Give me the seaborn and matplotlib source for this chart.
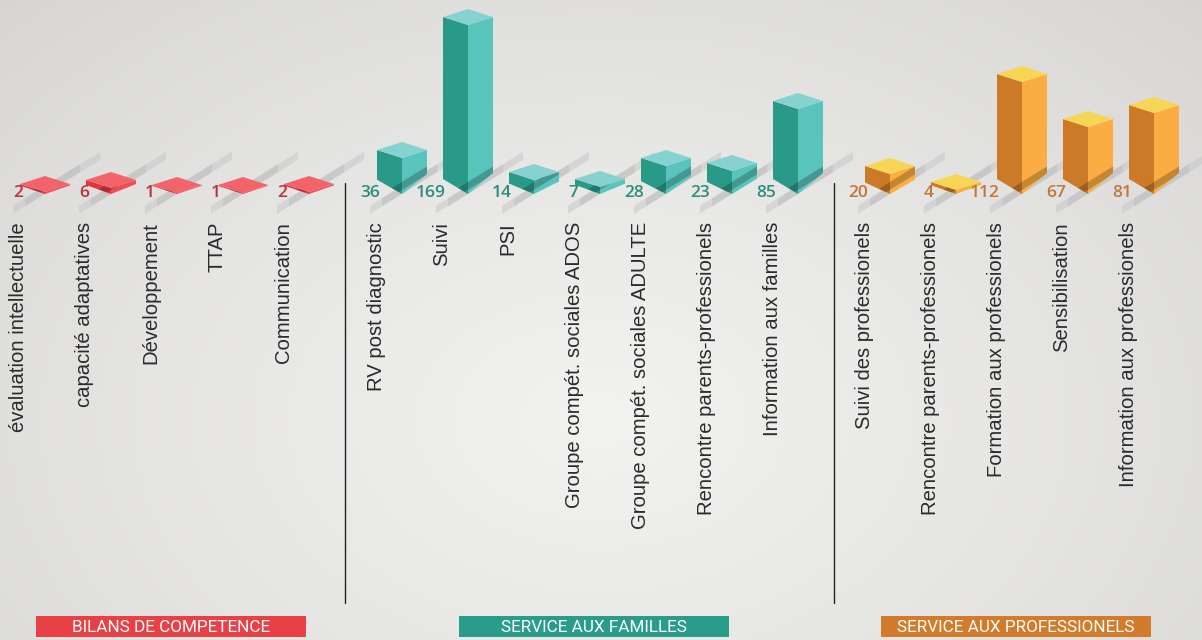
import numpy as np
import matplotlib.pyplot as plt
import seaborn as sns
from matplotlib.patches import Polygon, Rectangle

sns.set_theme(style="white")
plt.rcParams['font.family'] = ['Liberation Sans', 'DejaVu Sans']

# ---- data ----
groups = ["BILANS DE COMPETENCE", "SERVICE AUX FAMILLES", "SERVICE AUX PROFESSIONELS"]

bilans_labels = ["évaluation intellectuelle", "capacité adaptatives", "Développement",
                 "TTAP", "Communication"]
bilans_values = [2, 6, 1, 1, 2]

familles_labels = ["RV post diagnostic", "Suivi", "PSI", "Groupe compét. sociales ADOS",
                   "Groupe compét. sociales ADULTE", "Rencontre parents-professionels",
                   "Information aux familles"]
familles_values = [36, 169, 14, 7, 28, 23, 85]

pros_labels = ["Suivi des professionels", "Rencontre parents-professionels",
               "Formation aux professionels", "Sensibilisation",
               "Information aux professionels"]
pros_values = [20, 4, 112, 67, 81]

# colours per group: left face, right face, top face, label text, header
palettes = [
    dict(left="#e2363d", right="#f04c52", top="#f2646a", text="#b5353a", head="#e94046"),
    dict(left="#2a9a88", right="#59c4bc", top="#85d2d0", text="#2e8c7c", head="#2a9d8a"),
    dict(left="#cd7a28", right="#fbad43", top="#f7d655", text="#c0773a", head="#d27b2b"),
]

# ---- layout (pixel space) ----
W, H = 1202, 640
step = 66
group_start = [45, 402, 890]
base_y = 194
half_w = 25
top_slant = 8

fig = plt.figure(figsize=(W / 100, H / 100), dpi=100)
ax = fig.add_axes([0, 0, 1, 1])
ax.set_xlim(0, W)
ax.set_ylim(H, 0)
ax.axis('off')

# radial background
yy, xx = np.mgrid[0:H, 0:W]
r = np.sqrt(((xx - 600) / 900.0) ** 2 + ((yy - 420) / 620.0) ** 2)
bg = np.clip(1 - r, 0, 1)
lo = np.array([0.83, 0.825, 0.82])
hi = np.array([0.95, 0.95, 0.945])
img = lo + (hi - lo) * bg[..., None] ** 0.8
ax.imshow(img, extent=(0, W, H, 0), zorder=0, aspect='auto')


def band_poly(x0, yb, xa_off=-32, xb_off=55):
    # floor streak running lower-left -> upper-right through the bar base
    sl = -0.62
    xa, xb = x0 + xa_off, x0 + xb_off
    t = 4
    y0 = yb + 12 + sl * (xa_off + 26)
    return [(xa, y0 - t), (xb, y0 + sl * (xb - xa) - t),
            (xb, y0 + sl * (xb - xa) + t), (xa, y0 + t)]


def draw_bar(x0, v, pal):
    s = min(1.0, v / 40.0)
    lb = 8 + 7 * s
    rb = 8 + 13 * s
    ft = base_y - v
    # floor streak, fading towards its ends
    ax.add_patch(Polygon(band_poly(x0, base_y), closed=True, fc="#c8c8c8",
                         ec="none", alpha=0.55, zorder=1))
    ax.add_patch(Polygon(band_poly(x0, base_y, -20, 35), closed=True, fc="#bdbdbd",
                         ec="none", alpha=0.5, zorder=1))
    left = [(x0 - half_w, base_y - lb), (x0, base_y), (x0, ft), (x0 - half_w, ft - top_slant)]
    right = [(x0, base_y), (x0 + half_w, base_y - rb), (x0 + half_w, ft - top_slant), (x0, ft)]
    top = [(x0, ft), (x0 + half_w, ft - top_slant), (x0, ft - 2 * top_slant),
           (x0 - half_w, ft - top_slant)]
    for pts, c in [(left, pal["left"]), (right, pal["right"]), (top, pal["top"])]:
        p = Polygon(pts, closed=True, fc=c, ec="none", zorder=3)
        ax.add_patch(p)
        if c != pal["top"]:
            sh = Polygon(band_poly(x0, base_y - 4), closed=True, fc="black",
                         ec="none", alpha=0.22, zorder=4)
            sh.set_clip_path(p)
            ax.add_patch(sh)


all_groups = [(bilans_labels, bilans_values), (familles_labels, familles_values),
              (pros_labels, pros_values)]

for gi, (labels, values) in enumerate(all_groups):
    pal = palettes[gi]
    xs = [group_start[gi] + step * i for i in range(len(values))]
    for x0, v, lab in zip(xs, values, labels):
        draw_bar(x0, v, pal)
        ax.text(x0 - 22, base_y - 1, str(v), ha='right', va='center', fontsize=12.5,
                fontweight='semibold', color=pal["text"], zorder=5,
                family=['Open Sans', 'DejaVu Sans'])
        ax.text(x0 - 26, 222, lab, rotation=90, ha='center', va='top', fontsize=14.6,
                color="#2b2b2b", zorder=5)
    # header box
    cx = (xs[0] + xs[-1]) / 2 - 6
    ax.add_patch(Rectangle((cx - 135, 616), 270, 21, fc=pal["head"], ec="none", zorder=5))
    ax.text(cx, 627, groups[gi], ha='center', va='center', fontsize=12.3,
            color="white", zorder=6, family=['Roboto', 'DejaVu Sans'])
    # separator
    if gi < 2:
        sx = xs[-1] + 36
        ax.plot([sx, sx], [183, 603], color="#222222", lw=1, zorder=2)

fig.savefig("out.png", dpi=100)
